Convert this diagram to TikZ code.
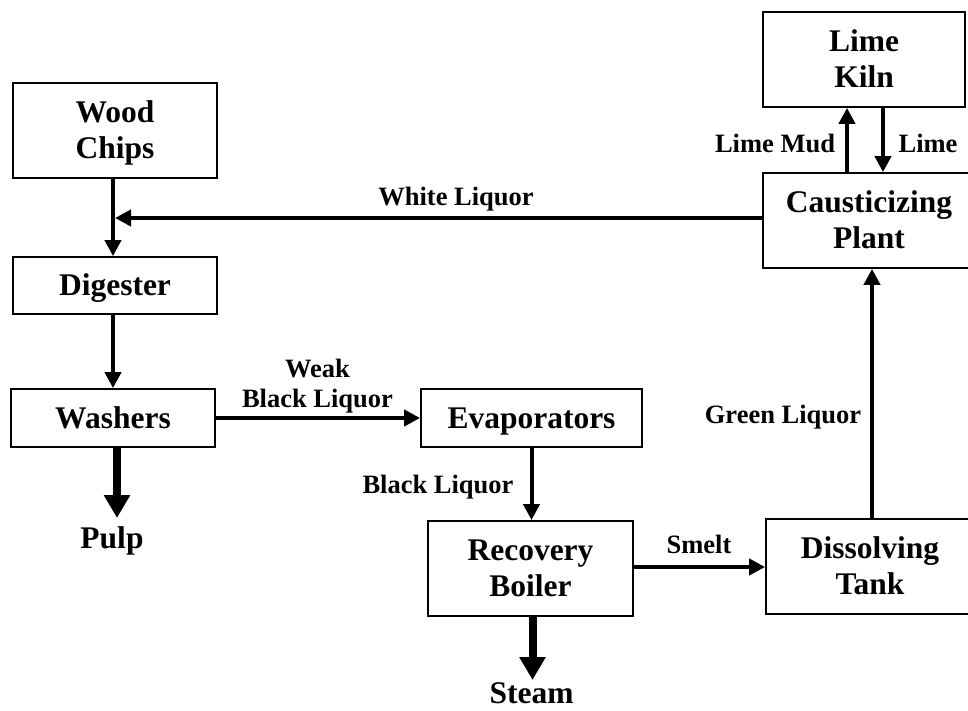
\documentclass[tikz,border=0pt]{standalone}
\usepackage{fontspec}
\setmainfont{Liberation Serif}
\usetikzlibrary{arrows.meta}
\newcommand\capln[1]{\raisebox{0pt}[0.66em][0pt]{#1}}
\begin{document}
\begin{tikzpicture}[x=1pt,y=-1pt,
  box/.style={draw, line width=1.8pt, inner sep=0pt, align=center,
    font=\bfseries\fontsize{31.5}{36}\selectfont},
  lbl/.style={inner sep=0pt, anchor=base, font=\bfseries\fontsize{26.5}{30}\selectfont},
  biglbl/.style={inner sep=0pt, anchor=base, font=\bfseries\fontsize{31.5}{36}\selectfont},
  arr/.style={line width=4pt, -{Triangle[length=16pt,width=16pt]}},
  fatarr/.style={line width=8pt, -{Triangle[length=23pt,width=25pt]}}]
\useasboundingbox (0,0) rectangle (968,711);
\clip (0,0) rectangle (968,711);

% boxes
\node[box, minimum width=204pt, minimum height=95pt] (wc) at (115,130.2) {\capln{Wood}\\\capln{Chips}};
\node[box, minimum width=204pt, minimum height=57pt] (dg) at (115,285.5) {\capln{Digester}};
\node[box, minimum width=204pt, minimum height=58pt] (wa) at (113,418) {\capln{Washers}};
\node[box, minimum width=221pt, minimum height=58pt] (ev) at (531.5,418) {\capln{Evaporators}};
\node[box, minimum width=205pt, minimum height=95pt] (rb) at (530.5,568.5) {\capln{Recovery}\\\capln{Boiler}};
\node[box, minimum width=208pt, minimum height=95pt] (dt) at (870,566.5) {\capln{Dissolving}\\\capln{Tank}};
\node[box, minimum width=212pt, minimum height=95pt] (cp) at (869,220.5) {\capln{Causticizing}\\\capln{Plant}};
\node[box, minimum width=202pt, minimum height=95pt] (lk) at (864,59.5) {\capln{Lime}\\\capln{Kiln}};

% outputs
\node[biglbl] (pulp) at (112,548) {Pulp};
\node[biglbl] (steam) at (531.5,703) {Steam};

% connector helper coordinates
\coordinate (xa) at (113,0);
\coordinate (wlend) at (115,218);
\coordinate (xlm) at (847,0);
\coordinate (xli) at (883,0);
\coordinate (xgl) at (872,0);
\coordinate (ysm) at (0,567);
\coordinate (pulptip) at (117,518);
\coordinate (steamtip) at (532.5,680);

% connectors
\draw[arr] (wc.south -| xa) -- (dg.north -| xa);
\draw[arr] (dg.south -| xa) -- (wa.north -| xa);
\draw[arr] (cp.west |- wlend) -- (wlend);
\draw[arr] (wa.east) -- (ev.west);
\draw[arr] (ev.south) -- (rb.north -| ev.south);
\draw[arr] (rb.east |- ysm) -- (dt.west |- ysm);
\draw[arr] (dt.north -| xgl) -- (cp.south -| xgl);
\draw[arr] (cp.north -| xlm) -- (lk.south -| xlm);
\draw[arr] (lk.south -| xli) -- (cp.north -| xli);
\draw[fatarr] (wa.south -| pulptip) -- (pulptip);
\draw[fatarr] (rb.south -| steamtip) -- (steamtip);

% labels
\node[lbl] (lwl) at (456,206) {White Liquor};
\node[lbl, anchor=center, align=center, font=\bfseries\fontsize{26.5}{30}\selectfont] (lwbl) at (317.5,384.2) {\capln{Weak}\\\capln{Black Liquor}};
\node[lbl] (lbl2) at (438,493) {Black Liquor};
\node[lbl] (lsm) at (699,553) {Smelt};
\node[lbl] (lgl) at (783,423) {Green Liquor};
\node[lbl] (llm) at (775,153) {Lime Mud};
\node[lbl] (lli) at (928,153) {Lime};
\end{tikzpicture}
\end{document}
